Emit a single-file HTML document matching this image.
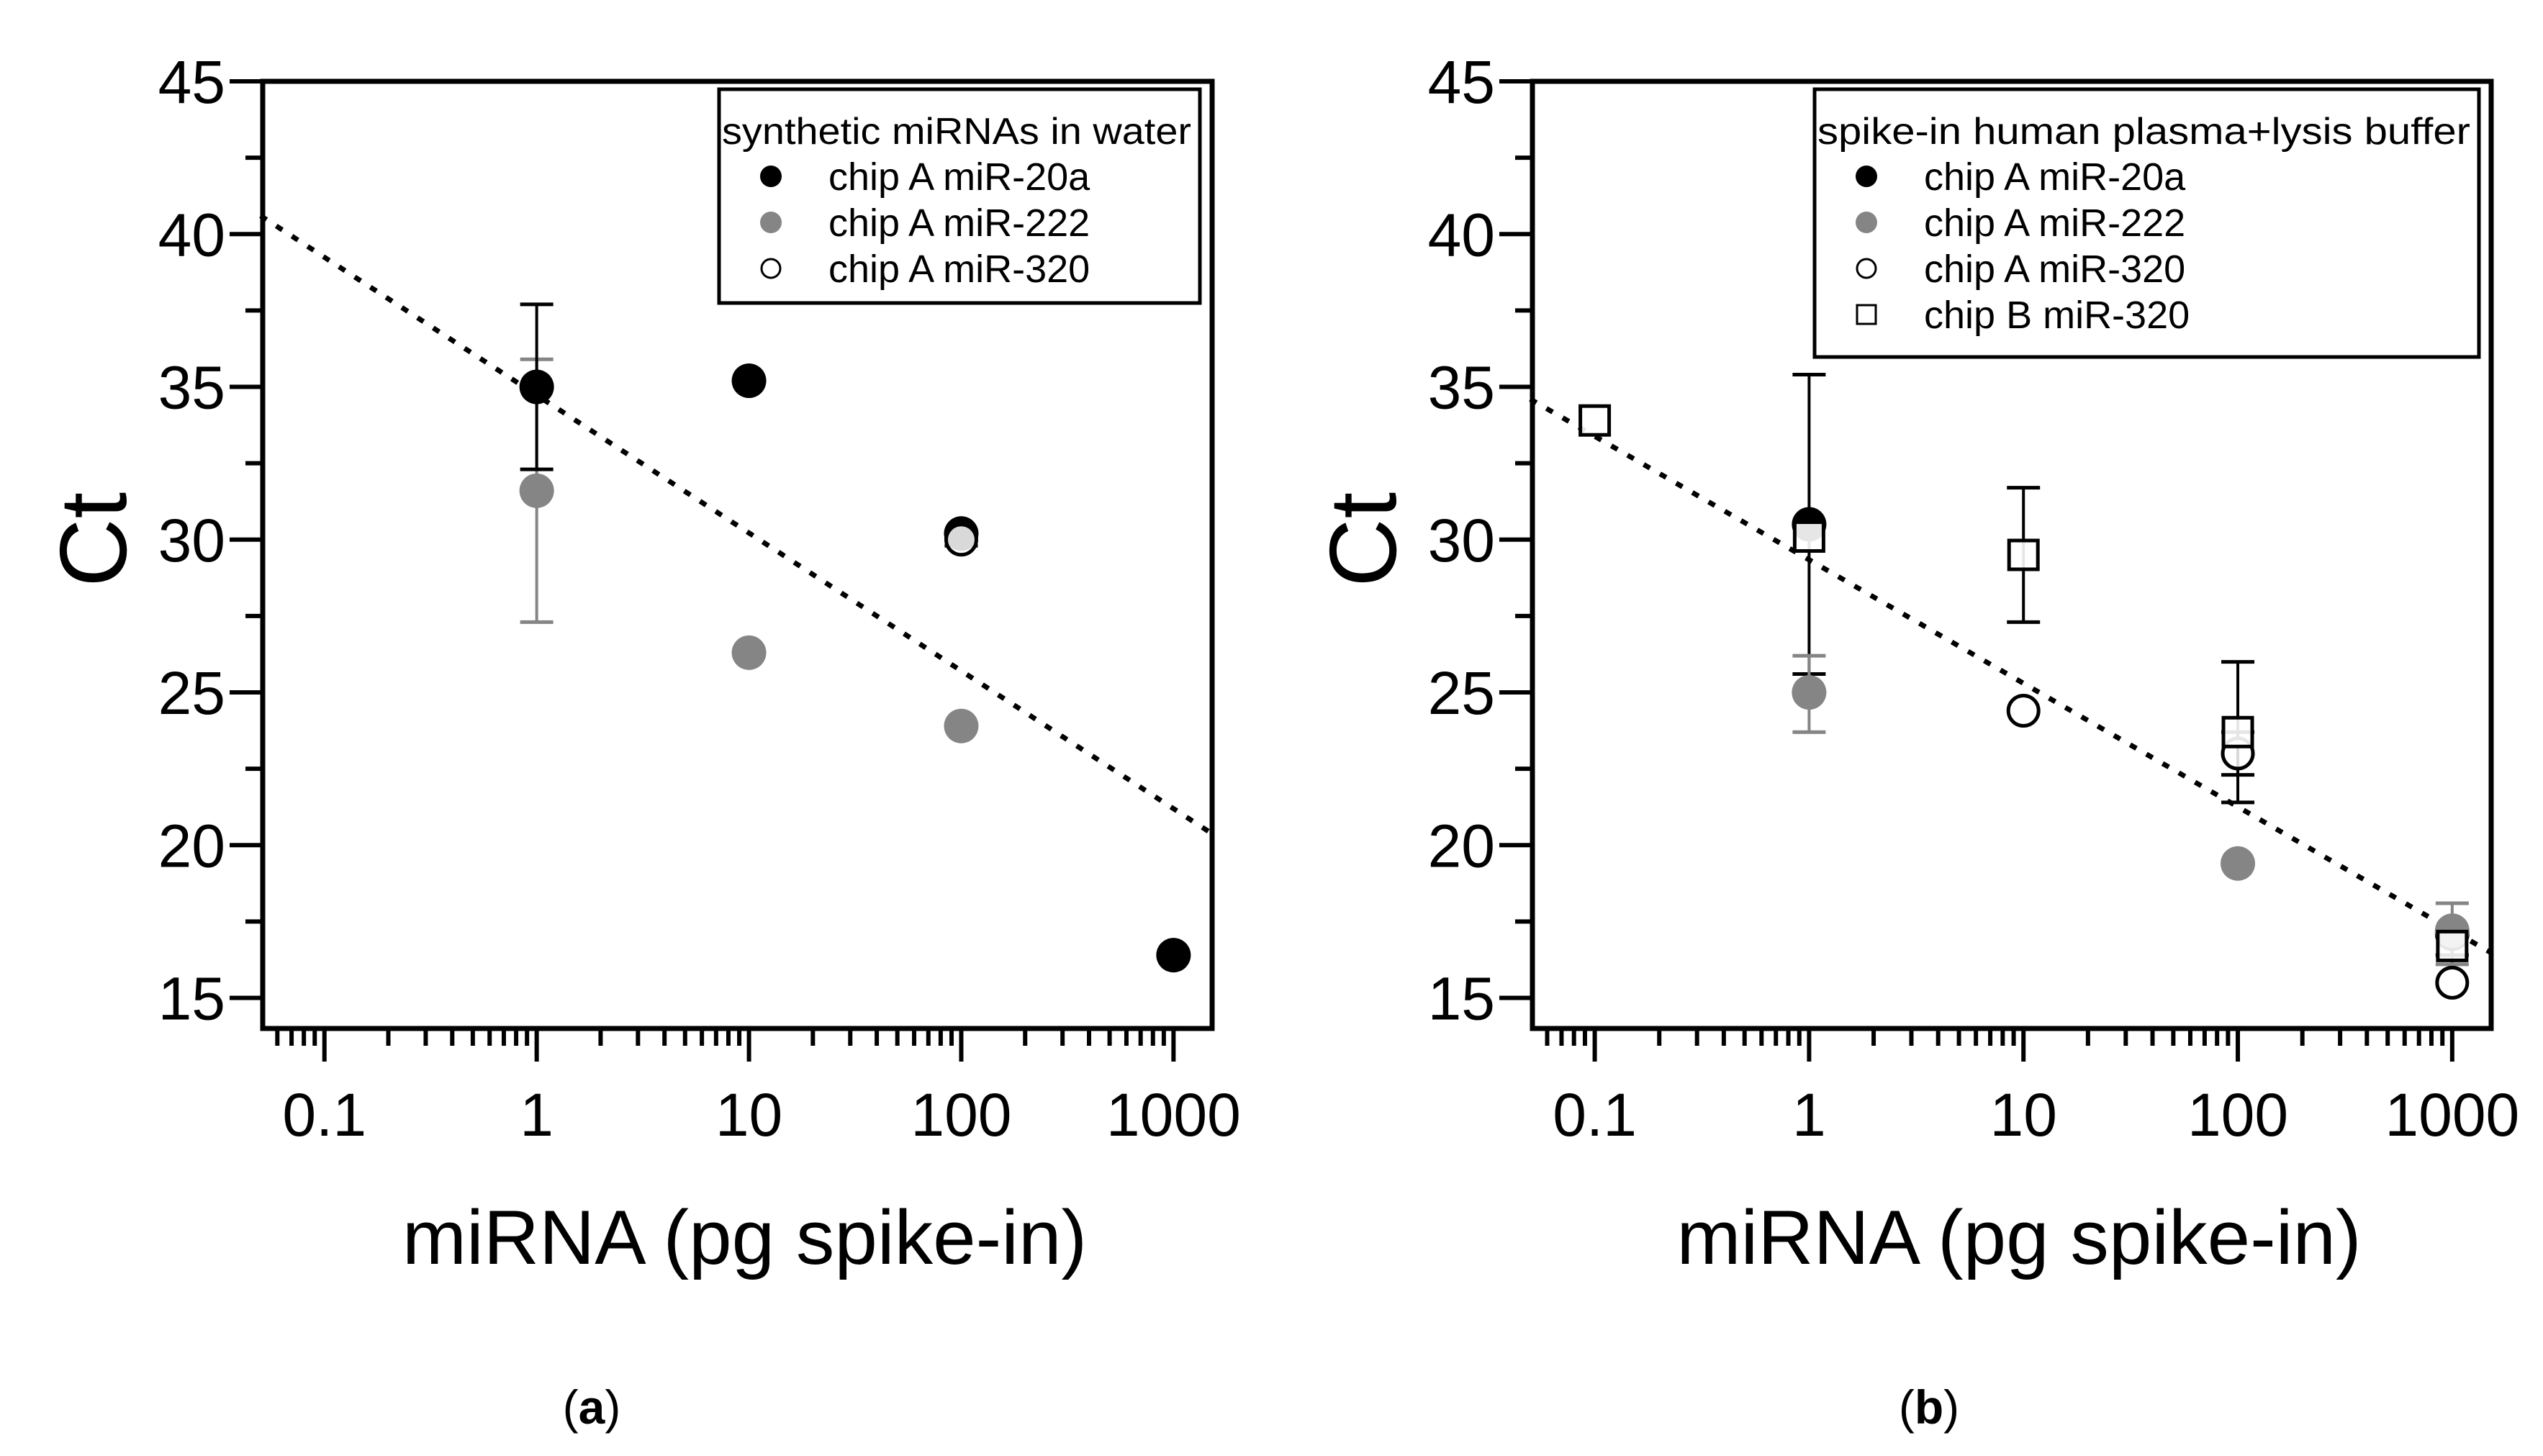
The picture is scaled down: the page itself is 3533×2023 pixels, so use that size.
<!DOCTYPE html>
<html><head><meta charset="utf-8"><style>
body{margin:0;background:#fff;}
svg{display:block;}
text{font-family:"Liberation Sans",Arial,sans-serif;}
</style></head><body>
<svg id="chart" width="3533" height="2023" viewBox="0 0 3533 2023">
<text x="822" y="1978" font-family="Liberation Serif" font-size="66" text-anchor="middle">(<tspan font-weight="bold">a</tspan>)</text>
<text x="2680" y="1978" font-family="Liberation Serif" font-size="66" text-anchor="middle">(<tspan font-weight="bold">b</tspan>)</text>
</svg>
<script>
// Panel A data
const aMir20aX = [1, 10, 100, 1000];
const aMir20aY = [35.0, 35.2, 30.2, 16.4];
const aMir20aErrLo = [32.3, null, null, null];
const aMir20aErrHi = [37.7, null, null, null];
const aMir222X = [1, 10, 100];
const aMir222Y = [31.6, 26.3, 23.9];
const aMir222ErrLo = [27.3, null, null];
const aMir222ErrHi = [35.9, null, null];
const aMir320X = [100];
const aMir320Y = [30.0];
const aMir320ErrLo = [29.8];
const aMir320ErrHi = [30.2];
const aFitY = [40.6, 20.4]; // at x = 0.05 and 1500
// Panel B data
const bMir20aX = [1, 1000];
const bMir20aY = [30.5, 17.1];
const bMir20aErrLo = [25.6, null];
const bMir20aErrHi = [35.4, null];
const bMir222X = [1, 100, 1000];
const bMir222Y = [25.0, 19.4, 17.2];
const bMir222ErrLo = [23.7, null, 16.1];
const bMir222ErrHi = [26.2, null, 18.1];
const bMir320X = [10, 100, 1000];
const bMir320Y = [24.4, 23.0, 15.5];
const bMir320ErrLo = [null, 22.3, null];
const bMir320ErrHi = [null, 23.7, null];
const bChipBX = [0.1, 1, 10, 100, 1000];
const bChipBY = [33.9, 30.1, 29.5, 23.7, 16.7];
const bChipBErrLo = [null, null, 27.3, 21.4, 16.4];
const bChipBErrHi = [null, null, 31.7, 26.0, 17.0];
const bFitY = [34.6, 16.5];
const fitX = [0.05, 1500];
const yTicks = [15, 20, 25, 30, 35, 40, 45];
const xTicks = [0.1, 1, 10, 100, 1000];
const xTickLabels = ['0.1', '1', '10', '100', '1000'];

const NS = 'http://www.w3.org/2000/svg';
const svg = document.getElementById('chart');
function el(tag, attrs, parent) {
  const e = document.createElementNS(NS, tag);
  for (const k in attrs) e.setAttribute(k, attrs[k]);
  (parent || svg).appendChild(e);
  return e;
}
const Y0 = 113, Y1 = 1429, YMIN = 14, YMAX = 45;
const LMIN = Math.log10(0.0512), LMAX = Math.log10(1520);

function panel(id, left, right, legendBox, legendTitle, entries, series, fit) {
  const g = el('g', {});
  
  
  const sx = v => left + (Math.log10(v) - LMIN) / (LMAX - LMIN) * (right - left);
  const sy = v => Y1 - (v - YMIN) / (YMAX - YMIN) * (Y1 - Y0);
  for (let v = 15; v <= 45; v += 2.5) {
    const major = v % 5 === 0;
    const t = el('line', {x1: left - (major ? 46 : 24), x2: left, y1: sy(v), y2: sy(v), stroke: '#000', 'stroke-width': 6}, g);
    
    
  }
  yTicks.forEach(v => {
    const t = el('text', {x: left - 52, y: sy(v) + 30, 'font-size': 84, 'text-anchor': 'end'}, g);
    t.textContent = v;
    
    
  });
  for (let d = -2; d <= 3; d++) {
    for (let m = 1; m <= 9; m++) {
      const v = m * Math.pow(10, d);
      if (v < 0.0512 || v > 1520) continue;
      const t = el('line', {x1: sx(v), x2: sx(v), y1: Y1, y2: Y1 + (m === 1 ? 46 : 24), stroke: '#000', 'stroke-width': 6}, g);
      
      
    }
  }
  xTicks.forEach((v, i) => {
    const t = el('text', {x: sx(v), y: 1578, 'font-size': 84, 'text-anchor': 'middle'}, g);
    t.textContent = xTickLabels[i];
    
    
  });
  const xt = el('text', {x: (left + right) / 2 + 10, y: 1756, 'font-size': 107, 'text-anchor': 'middle'}, g);
  xt.textContent = 'miRNA (pg spike-in)';
  
  
  const yt = el('text', {x: 0, y: 0, 'font-size': 132, 'text-anchor': 'middle', transform: `translate(${left - 190},${sy(30)}) rotate(-90)`}, g);
  yt.textContent = 'Ct';
  
  
  const fl = el('line', {x1: sx(fitX[0]), y1: sy(fit[0]), x2: sx(fitX[1]), y2: sy(fit[1]), stroke: '#000', 'stroke-width': 7, 'stroke-dasharray': '10 16'}, g);
  
  
  series.forEach(s => {
    s.x.forEach((xv, i) => {
      if (s.lo && s.lo[i] != null) {
        const c = s.errColor;
        const cx = sx(xv);
        const e1 = el('line', {x1: cx, x2: cx, y1: sy(s.lo[i]), y2: sy(s.hi[i]), stroke: c, 'stroke-width': 4}, g);
        
        
        [s.lo[i], s.hi[i]].forEach(v => {
          const cap = el('line', {x1: cx - 23, x2: cx + 23, y1: sy(v), y2: sy(v), stroke: c, 'stroke-width': 5}, g);
          
          
        });
      }
    });
  });
  series.forEach(s => {
    s.x.forEach((xv, i) => {
      let m;
      if (s.shape === 'square') {
        m = el('rect', {x: sx(xv) - 20, y: sy(s.y[i]) - 20, width: 40, height: 40, fill: '#fff', 'fill-opacity': 0.9, stroke: '#000', 'stroke-width': 5}, g);
      } else if (s.fill === 'none') {
        m = el('circle', {cx: sx(xv), cy: sy(s.y[i]), r: 21, fill: '#fff', 'fill-opacity': 0.85, stroke: '#000', 'stroke-width': 5}, g);
      } else {
        m = el('circle', {cx: sx(xv), cy: sy(s.y[i]), r: 24, fill: s.fill}, g);
      }
      
      
    });
  });
  const fr = el('rect', {x: left, y: Y0, width: right - left, height: Y1 - Y0, fill: 'none', stroke: '#000', 'stroke-width': 7}, g);
  
  
  const lg = el('g', {}, g);
  
  
  el('rect', {x: legendBox[0], y: legendBox[1], width: legendBox[2], height: legendBox[3], fill: '#fff', stroke: '#000', 'stroke-width': 5}, lg);
  const lt = el('text', {x: legendBox[0] + 4, y: legendBox[1] + 76, 'font-size': 52, textLength: legendBox[2] - 16, lengthAdjust: 'spacingAndGlyphs'}, lg);
  lt.textContent = legendTitle;
  
  
  entries.forEach((en, i) => {
    const cy = legendBox[1] + 121 + i * 64;
    const mx = legendBox[0] + 72;
    let m;
    if (en.shape === 'square') m = el('rect', {x: mx - 13, y: cy - 13, width: 26, height: 26, fill: '#fff', stroke: '#000', 'stroke-width': 3}, lg);
    else if (en.fill === 'none') m = el('circle', {cx: mx, cy: cy, r: 13, fill: '#fff', stroke: '#000', 'stroke-width': 3}, lg);
    else m = el('circle', {cx: mx, cy: cy, r: 15, fill: en.fill}, lg);
    
    
    const t = el('text', {x: legendBox[0] + 152, y: cy + 19, 'font-size': 54}, lg);
    t.textContent = en.label;
    
    
  });
}

panel('panel-a', 365, 1684, [999, 124, 668, 297], 'synthetic miRNAs in water',
  [{label: 'chip A miR-20a', fill: '#000'}, {label: 'chip A miR-222', fill: '#858585'}, {label: 'chip A miR-320', fill: 'none'}],
  [
    {name: 'mir-222', x: aMir222X, y: aMir222Y, lo: aMir222ErrLo, hi: aMir222ErrHi, fill: '#858585', errColor: '#858585'},
    {name: 'mir-20a', x: aMir20aX, y: aMir20aY, lo: aMir20aErrLo, hi: aMir20aErrHi, fill: '#000', errColor: '#000'},
    {name: 'mir-320', x: aMir320X, y: aMir320Y, lo: aMir320ErrLo, hi: aMir320ErrHi, fill: 'none', errColor: '#000'}
  ], aFitY);

panel('panel-b', 2129, 3461, [2521, 124, 923, 372], 'spike-in human plasma+lysis buffer',
  [{label: 'chip A miR-20a', fill: '#000'}, {label: 'chip A miR-222', fill: '#858585'}, {label: 'chip A miR-320', fill: 'none'}, {label: 'chip B miR-320', shape: 'square'}],
  [
    {name: 'mir-20a', x: bMir20aX, y: bMir20aY, lo: bMir20aErrLo, hi: bMir20aErrHi, fill: '#000', errColor: '#000'},
    {name: 'mir-222', x: bMir222X, y: bMir222Y, lo: bMir222ErrLo, hi: bMir222ErrHi, fill: '#858585', errColor: '#858585'},
    {name: 'mir-320', x: bMir320X, y: bMir320Y, lo: bMir320ErrLo, hi: bMir320ErrHi, fill: 'none', errColor: '#000'},
    {name: 'chip-b-mir-320', x: bChipBX, y: bChipBY, lo: bChipBErrLo, hi: bChipBErrHi, shape: 'square', errColor: '#000'}
  ], bFitY);
</script>
</body></html>
